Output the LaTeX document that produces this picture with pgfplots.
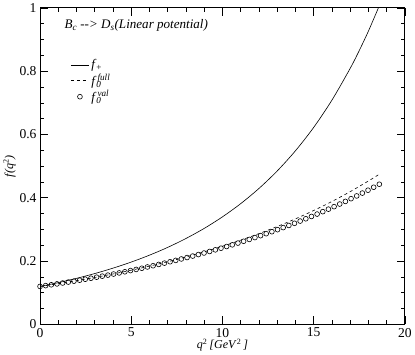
\documentclass[border=0pt]{standalone}
\usepackage{pgfplots}
\pgfplotsset{compat=1.18}
\usepackage{fontspec}
\setmainfont{Liberation Serif}
\begin{document}
\begin{tikzpicture}
\begin{axis}[
    width=363pt, height=315pt, scale only axis,
    xmin=0, xmax=20, ymin=0, ymax=1,
    xtick={0,5,10,15,20}, ytick={0,0.2,0.4,0.6,0.8,1},
    minor x tick num=4, minor y tick num=3,
    tick align=inside,
    major tick length=8pt, minor tick length=4pt,
    every tick/.style={black, line width=0.6pt},
    axis line style={line width=0.8pt},
    ticklabel style={font=\fontsize{13.5}{13.5}\selectfont},
    /pgf/number format/assume math mode=true,
    yticklabel style={/pgf/number format/fixed, /pgf/number format/precision=1},
    xlabel={\textit{q}\textsuperscript{2}\,\textit{[GeV}\textsuperscript{2}\,\textit{]}},
    ylabel={\textit{f(q}\textsuperscript{2}\textit{)}},
    xlabel style={font=\fontsize{12}{12}\selectfont, yshift=5pt},
    ylabel style={font=\fontsize{12}{12}\selectfont, yshift=-3pt},
    legend style={draw=none, fill=none, at={(axis cs:1.5,0.85)}, anchor=north west,
        font=\fontsize{13}{13}\selectfont, row sep=0pt},
    legend cell align=left,
    legend image code/.code={\draw[#1] (0pt,0pt) -- (18pt,0pt);},
]
% f_+
\addplot[black, line width=0.6pt, smooth] coordinates {
(0,0.1200) (1,0.1320) (2,0.1456) (3,0.1607) (4,0.1778) (5,0.1970)
(6,0.2188) (7,0.2434) (8,0.2715) (9,0.3033) (10,0.3398) (11,0.3815)
(12,0.4294) (13,0.4846) (14,0.5484) (15,0.6222) (16,0.7083) (17,0.8086)
(17.5,0.8651) (18,0.9262) (18.55,1.0000)
};
\addlegendentry{\textit{f}\textsubscript{+}}
% f_0 full
\addplot[black, line width=0.6pt, dashed, smooth] coordinates {
(0,0.1200) (1,0.1287) (2,0.1382) (3,0.1484) (4,0.1594) (5,0.1713)
(6,0.1842) (7,0.1981) (8,0.2131) (9,0.2294) (10,0.2470) (11,0.2661)
(12,0.2868) (13,0.3092) (14,0.3334) (15,0.3598) (16,0.3883) (17,0.4193)
(18,0.4530) (18.6,0.4745)
};
\addlegendentry{\textit{f}\textsubscript{\textit{0}}\hspace{-0.3em}\textsuperscript{\textit{full}}}
% f_0 val
\addplot[black, only marks, mark=o, mark size=2.4pt, mark options={line width=0.6pt},
    legend image code/.code={\draw[black, line width=0.6pt] (9pt,0pt) circle (2.4pt);}] coordinates {
(0,0.1200) (0.31,0.1226) (0.62,0.1253) (0.93,0.1281) (1.24,0.1309) (1.55,0.1338)
(1.86,0.1367) (2.17,0.1397) (2.48,0.1428) (2.79,0.1460) (3.10,0.1492) (3.41,0.1525)
(3.72,0.1558) (4.03,0.1592) (4.34,0.1627) (4.65,0.1663) (4.96,0.1700) (5.27,0.1737)
(5.58,0.1775) (5.89,0.1815) (6.20,0.1854) (6.51,0.1895) (6.82,0.1937) (7.13,0.1980)
(7.44,0.2023) (7.75,0.2068) (8.06,0.2113) (8.37,0.2160) (8.68,0.2207) (8.99,0.2256)
(9.30,0.2305) (9.61,0.2356) (9.92,0.2408) (10.23,0.2461) (10.54,0.2515) (10.85,0.2570)
(11.16,0.2627) (11.47,0.2685) (11.78,0.2744) (12.09,0.2804) (12.40,0.2866) (12.71,0.2929)
(13.02,0.2993) (13.33,0.3059) (13.64,0.3126) (13.95,0.3195) (14.26,0.3265) (14.57,0.3337)
(14.88,0.3411) (15.19,0.3486) (15.50,0.3562) (15.81,0.3641) (16.12,0.3721) (16.43,0.3803)
(16.74,0.3886) (17.05,0.3972) (17.36,0.4059) (17.67,0.4149) (17.98,0.4240) (18.29,0.4333)
(18.60,0.4428)
};
\addlegendentry{\textit{f}\textsubscript{\textit{0}}\hspace{-0.3em}\textsuperscript{\textit{val}}}
\node[anchor=west, font=\fontsize{13}{13}\selectfont\itshape] at (axis cs:1.15,0.945)
    {B\textsubscript{c} -{}-{}> D\textsubscript{s}(Linear potential)};
\end{axis}
\end{tikzpicture}
\end{document}
